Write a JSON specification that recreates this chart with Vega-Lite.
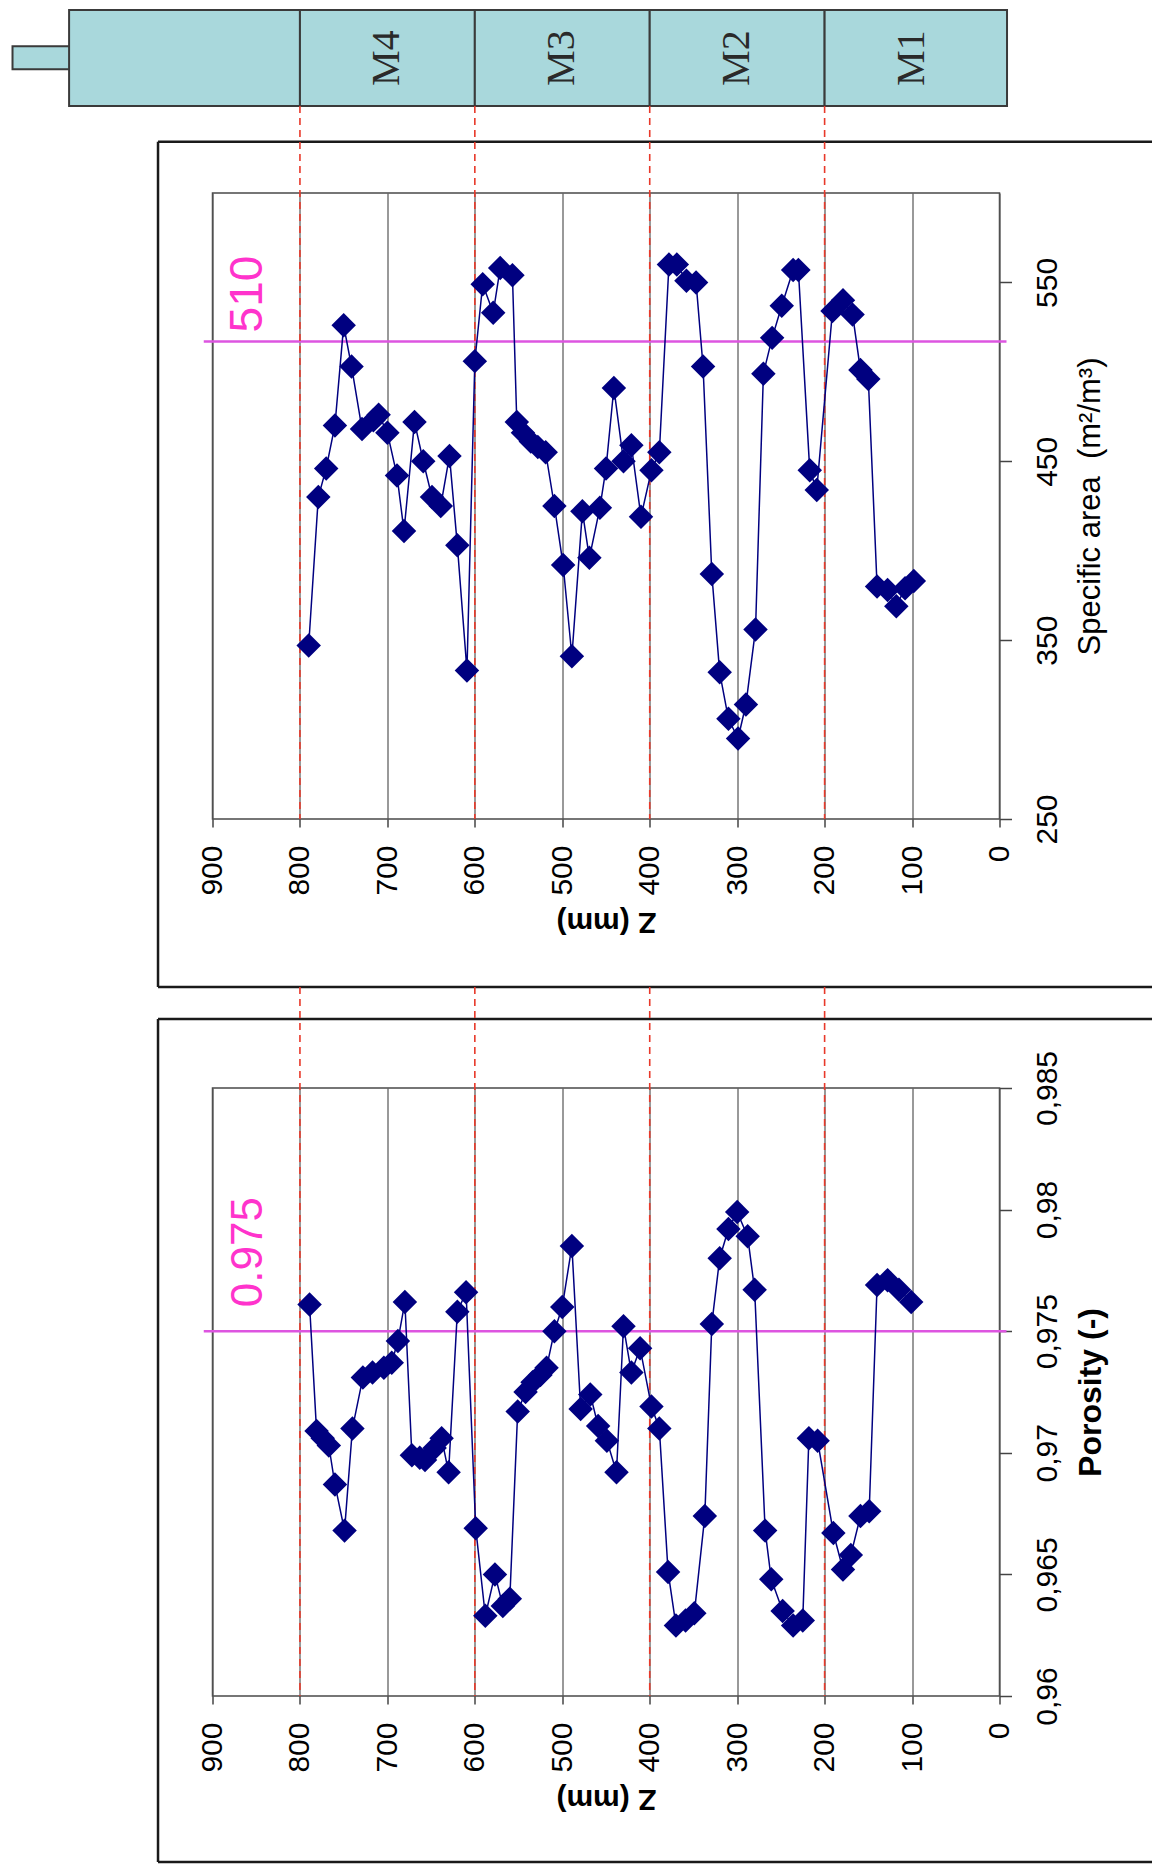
{
  "$schema": "https://vega.github.io/schema/vega-lite/v6.json",
  "padding": {"left": 10.5, "top": 8, "right": 0, "bottom": 0},
  "background": "white",
  "bounds": "flush",
  "spacing": 269,
  "config": {
    "view": {"stroke": "#4a4a4a", "strokeWidth": 1.5},
    "font": "Liberation Sans",
    "axis": {"labelFont": "Liberation Sans", "titleFont": "Liberation Sans", "labelColor": "#000000", "titleColor": "#000000", "domain": false, "tickColor": "#444444", "tickWidth": 1.5, "gridColor": "#555555", "gridWidth": 1.2, "gridOpacity": 1, "labelFontSize": 30, "labelOverlap": false, "labelFlush": false}
  },
  "datasets": {
    "sa": [
      {"z": 790, "v": 347}, {"z": 779, "v": 430}, {"z": 770, "v": 446}, {"z": 760, "v": 470}, {"z": 750, "v": 526},
      {"z": 741, "v": 503}, {"z": 729, "v": 468}, {"z": 716, "v": 473}, {"z": 710, "v": 476}, {"z": 700, "v": 466},
      {"z": 689, "v": 442}, {"z": 681, "v": 411}, {"z": 669, "v": 472}, {"z": 659, "v": 450}, {"z": 649, "v": 430},
      {"z": 639, "v": 425}, {"z": 629, "v": 453}, {"z": 620, "v": 403}, {"z": 609, "v": 333}, {"z": 600, "v": 506},
      {"z": 591, "v": 549}, {"z": 579, "v": 533}, {"z": 571, "v": 558}, {"z": 557, "v": 554}, {"z": 552, "v": 472},
      {"z": 545, "v": 466}, {"z": 536, "v": 461}, {"z": 528, "v": 458}, {"z": 519, "v": 455}, {"z": 509, "v": 425},
      {"z": 499, "v": 392}, {"z": 489, "v": 341}, {"z": 477, "v": 422}, {"z": 469, "v": 396}, {"z": 457, "v": 424},
      {"z": 450, "v": 446}, {"z": 441, "v": 491}, {"z": 430, "v": 450}, {"z": 421, "v": 459}, {"z": 410, "v": 419},
      {"z": 398, "v": 445}, {"z": 389, "v": 455}, {"z": 378, "v": 560}, {"z": 369, "v": 560}, {"z": 358, "v": 551},
      {"z": 347, "v": 550}, {"z": 339, "v": 503}, {"z": 329, "v": 387}, {"z": 320, "v": 332}, {"z": 310, "v": 306},
      {"z": 299, "v": 295}, {"z": 290, "v": 314}, {"z": 279, "v": 356}, {"z": 270, "v": 499}, {"z": 260, "v": 519},
      {"z": 249, "v": 537}, {"z": 236, "v": 557}, {"z": 230, "v": 557}, {"z": 217, "v": 445}, {"z": 209, "v": 434},
      {"z": 191, "v": 534}, {"z": 179, "v": 540}, {"z": 168, "v": 532}, {"z": 159, "v": 501}, {"z": 150, "v": 496},
      {"z": 140, "v": 380}, {"z": 128, "v": 378}, {"z": 118, "v": 369}, {"z": 108, "v": 379}, {"z": 98, "v": 383}
    ],
    "por": [
      {"z": 789, "v": 0.9761}, {"z": 781, "v": 0.9709}, {"z": 774, "v": 0.9706}, {"z": 767, "v": 0.9703}, {"z": 760, "v": 0.9687},
      {"z": 749, "v": 0.9668}, {"z": 740, "v": 0.971}, {"z": 728, "v": 0.9731}, {"z": 717, "v": 0.9733}, {"z": 704, "v": 0.9735},
      {"z": 695, "v": 0.9737}, {"z": 688, "v": 0.9746}, {"z": 680, "v": 0.9762}, {"z": 672, "v": 0.9699}, {"z": 663, "v": 0.9698},
      {"z": 657, "v": 0.9697}, {"z": 646, "v": 0.9702}, {"z": 638, "v": 0.9706}, {"z": 630, "v": 0.9692}, {"z": 620, "v": 0.9758},
      {"z": 610, "v": 0.9766}, {"z": 599, "v": 0.9669}, {"z": 588, "v": 0.9633}, {"z": 577, "v": 0.965}, {"z": 568, "v": 0.9637},
      {"z": 560, "v": 0.964}, {"z": 551, "v": 0.9717}, {"z": 542, "v": 0.9725}, {"z": 534, "v": 0.9729}, {"z": 525, "v": 0.9732},
      {"z": 518, "v": 0.9735}, {"z": 509, "v": 0.975}, {"z": 500, "v": 0.976}, {"z": 489, "v": 0.9785}, {"z": 479, "v": 0.9718},
      {"z": 468, "v": 0.9724}, {"z": 459, "v": 0.9711}, {"z": 449, "v": 0.9705}, {"z": 438, "v": 0.9692}, {"z": 430, "v": 0.9752},
      {"z": 421, "v": 0.9733}, {"z": 411, "v": 0.9743}, {"z": 398, "v": 0.9719}, {"z": 389, "v": 0.971}, {"z": 379, "v": 0.9651},
      {"z": 370, "v": 0.9629}, {"z": 359, "v": 0.9631}, {"z": 349, "v": 0.9634}, {"z": 337, "v": 0.9674}, {"z": 329, "v": 0.9753},
      {"z": 320, "v": 0.978}, {"z": 310, "v": 0.9792}, {"z": 300, "v": 0.9799}, {"z": 288, "v": 0.9789}, {"z": 280, "v": 0.9767},
      {"z": 268, "v": 0.9668}, {"z": 261, "v": 0.9648}, {"z": 248, "v": 0.9635}, {"z": 236, "v": 0.9629}, {"z": 225, "v": 0.9631},
      {"z": 218, "v": 0.9706}, {"z": 208, "v": 0.9705}, {"z": 190, "v": 0.9667}, {"z": 179, "v": 0.9652}, {"z": 170, "v": 0.9658},
      {"z": 159, "v": 0.9674}, {"z": 149, "v": 0.9676}, {"z": 140, "v": 0.9769}, {"z": 128, "v": 0.9771}, {"z": 115, "v": 0.9767},
      {"z": 101, "v": 0.9762}
    ],
    "modules": [
      {"module": "", "z": 1064, "z2": 800, "v": 648.6, "v2": 702.3},
      {"module": "M4", "z": 800, "z2": 600, "v": 648.6, "v2": 702.3},
      {"module": "M3", "z": 600, "z2": 400, "v": 648.6, "v2": 702.3},
      {"module": "M2", "z": 400, "z2": 200, "v": 648.6, "v2": 702.3},
      {"module": "M1", "z": 200, "z2": -8.6, "v": 648.6, "v2": 702.3}
    ],
    "modlabels": [
      {"module": "M4", "z": 700, "v": 675.4},
      {"module": "M3", "z": 500, "v": 675.4},
      {"module": "M2", "z": 300, "v": 675.4},
      {"module": "M1", "z": 100, "v": 675.4}
    ],
    "nozzle": [{"z": 1128.7, "z2": 1063, "v": 669.2, "v2": 682.1}],
    "limits1": [{"z": 800, "v": 648.6, "v2": 250}, {"z": 600, "v": 648.6, "v2": 250}, {"z": 400, "v": 648.6, "v2": 250}, {"z": 200, "v": 648.6, "v2": 250}],
    "limits2": [{"z": 800, "v": 0.989153, "v2": 0.96}, {"z": 600, "v": 0.989153, "v2": 0.96}, {"z": 400, "v": 0.989153, "v2": 0.96}, {"z": 200, "v": 0.989153, "v2": 0.96}],
    "box1": [
      {"z": 962.3, "z2": 962.3, "v": 628.7, "v2": 156.1},
      {"z": 962.3, "z2": -174.4, "v": 628.7, "v2": 628.7},
      {"z": 962.3, "z2": -174.4, "v": 156.1, "v2": 156.1}
    ],
    "box2": [
      {"z": 962.3, "z2": 962.3, "v": 0.987837, "v2": 0.953174},
      {"z": 962.3, "z2": -174.4, "v": 0.987837, "v2": 0.987837},
      {"z": 962.3, "z2": -174.4, "v": 0.953174, "v2": 0.953174}
    ],
    "thr1": [{"z": 910, "z2": -8, "v": 517}],
    "thr1label": [{"z": 843, "v": 517, "label": "510"}],
    "thr2": [{"z": 910, "z2": -8, "v": 0.975}],
    "thr2label": [{"z": 843, "v": 0.975, "label": "0.975"}]
  },
  "vconcat": [
    {
      "width": 787,
      "height": 626,
      "encoding": {
        "x": {"field": "z", "type": "quantitative", "scale": {"domain": [900, 0], "nice": false, "zero": false},
          "axis": {"orient": "bottom", "values": [0, 100, 200, 300, 400, 500, 600, 700, 800, 900], "grid": true, "title": "Z (mm)", "titleAngle": 180, "titleBaseline": "bottom", "titleFontWeight": "bold", "titleFontSize": 30, "titlePadding": 11, "labelAngle": 270, "labelAlign": "right", "labelBaseline": "middle", "tickSize": 8, "labelPadding": 18}},
        "y": {"field": "v", "type": "quantitative", "scale": {"domain": [250, 600], "nice": false, "zero": false},
          "axis": {"orient": "right", "values": [250, 350, 450, 550], "grid": false, "title": "Specific area\u00a0 (m²/m³)", "titleAngle": 270, "titleBaseline": "top", "titleFontWeight": "normal", "titleFontSize": 31, "titlePadding": 13, "labelAngle": 270, "labelAlign": "center", "labelBaseline": "top", "tickSize": 12, "labelPadding": 21}}
      },
      "layer": [
        {
          "data": {"name": "box1"},
          "mark": {"type": "rule", "stroke": "#1a1a1a", "strokeWidth": 2.5},
          "encoding": {"x2": {"field": "z2"}, "y2": {"field": "v2"}}
        },
        {
          "data": {"name": "nozzle"},
          "mark": {"type": "rect", "fill": "#a9d8dc", "stroke": "#3a3a3a", "strokeWidth": 2},
          "encoding": {"x2": {"field": "z2"}, "y2": {"field": "v2"}}
        },
        {
          "data": {"name": "modules"},
          "mark": {"type": "rect", "fill": "#a9d8dc", "stroke": "#3a3a3a", "strokeWidth": 2},
          "encoding": {"x2": {"field": "z2"}, "y2": {"field": "v2"}}
        },
        {
          "data": {"name": "modlabels"},
          "mark": {"type": "text", "font": "Liberation Serif", "fontSize": 40, "color": "#2a2a2a", "angle": 270, "align": "center", "baseline": "middle"},
          "encoding": {"text": {"field": "module"}}
        },
        {
          "data": {"name": "thr1"},
          "mark": {"type": "rule", "color": "#dd55e0", "strokeWidth": 2.5},
          "encoding": {"x2": {"field": "z2"}}
        },
        {
          "data": {"name": "thr1label"},
          "mark": {"type": "text", "fontSize": 46, "color": "#ff33cc", "angle": 270, "align": "left", "baseline": "alphabetic", "dx": 9},
          "encoding": {"text": {"field": "label"}}
        },
        {
          "data": {"name": "limits1"},
          "mark": {"type": "rule", "color": "#e8392a", "strokeWidth": 1.6, "strokeDash": [7, 5]},
          "encoding": {"y2": {"field": "v2"}}
        },
        {
          "data": {"name": "sa"},
          "mark": {"type": "line", "color": "#000080", "strokeWidth": 1.5, "point": {"shape": "diamond", "size": 600, "filled": true, "color": "#000080", "opacity": 1}}
        }
      ]
    },
    {
      "width": 787,
      "height": 608,
      "encoding": {
        "x": {"field": "z", "type": "quantitative", "scale": {"domain": [900, 0], "nice": false, "zero": false},
          "axis": {"orient": "bottom", "values": [0, 100, 200, 300, 400, 500, 600, 700, 800, 900], "grid": true, "title": "Z (mm)", "titleAngle": 180, "titleBaseline": "bottom", "titleFontWeight": "bold", "titleFontSize": 30, "titlePadding": 11, "labelAngle": 270, "labelAlign": "right", "labelBaseline": "middle", "tickSize": 8, "labelPadding": 18}},
        "y": {"field": "v", "type": "quantitative", "scale": {"domain": [0.96, 0.985], "nice": false, "zero": false},
          "axis": {"orient": "right", "values": [0.96, 0.965, 0.97, 0.975, 0.98, 0.985], "labelExpr": "replace(format(datum.value, '.3~f'), '.', ',')", "grid": false, "title": "Porosity (-)", "titleAngle": 270, "titleBaseline": "top", "titleFontWeight": "bold", "titleFontSize": 32, "titlePadding": 13, "labelAngle": 270, "labelAlign": "center", "labelBaseline": "top", "tickSize": 12, "labelPadding": 21}}
      },
      "layer": [
        {
          "data": {"name": "box2"},
          "mark": {"type": "rule", "stroke": "#1a1a1a", "strokeWidth": 2.5},
          "encoding": {"x2": {"field": "z2"}, "y2": {"field": "v2"}}
        },
        {
          "data": {"name": "thr2"},
          "mark": {"type": "rule", "color": "#dd55e0", "strokeWidth": 2.5},
          "encoding": {"x2": {"field": "z2"}}
        },
        {
          "data": {"name": "thr2label"},
          "mark": {"type": "text", "fontSize": 44, "color": "#ff33cc", "angle": 270, "align": "left", "baseline": "alphabetic", "dx": 24},
          "encoding": {"text": {"field": "label"}}
        },
        {
          "data": {"name": "limits2"},
          "mark": {"type": "rule", "color": "#e8392a", "strokeWidth": 1.6, "strokeDash": [7, 5]},
          "encoding": {"y2": {"field": "v2"}}
        },
        {
          "data": {"name": "por"},
          "mark": {"type": "line", "color": "#000080", "strokeWidth": 1.5, "point": {"shape": "diamond", "size": 600, "filled": true, "color": "#000080", "opacity": 1}}
        }
      ]
    }
  ]
}
